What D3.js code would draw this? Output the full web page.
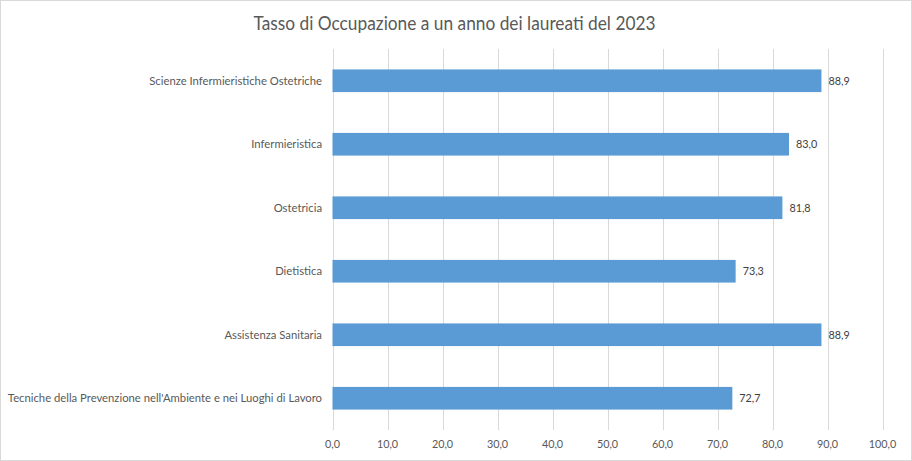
<!DOCTYPE html>
<html>
<head>
<meta charset="utf-8">
<script src="https://cdn.jsdelivr.net/npm/d3@7"></script>
<style>
  body { margin: 0; background: #fff; }
  svg { display: block; font-family: Lato, "Open Sans", sans-serif; }
</style>
</head>
<body>
<svg id="chart" width="912" height="461"></svg>
<script>
// data
const titleText = "Tasso di Occupazione a un anno dei laureati del 2023";
const categories = [
  "Scienze Infermieristiche Ostetriche",
  "Infermieristica",
  "Ostetricia",
  "Dietistica",
  "Assistenza Sanitaria",
  "Tecniche della Prevenzione nell'Ambiente e nei Luoghi di Lavoro"
];
const values = [88.9, 83.0, 81.8, 73.3, 88.9, 72.7];
const xTicks = [0, 10, 20, 30, 40, 50, 60, 70, 80, 90, 100];

const width = 912, height = 461;
const margin = { top: 49, right: 29.5, bottom: 31, left: 332.5 };

const svg = d3.select("#chart");

// comma as decimal separator (Italian)
const itLocale = d3.formatLocale({ decimal: ",", thousands: ".", grouping: [3], currency: ["€", ""] });
const fmt = itLocale.format(".1f");

// chart border
svg.append("rect")
  .attr("x", 0.5).attr("y", 0.5)
  .attr("width", width - 1).attr("height", height - 1)
  .attr("fill", "#fff")
  .attr("stroke", "#d9d9d9");

const x = d3.scaleLinear()
  .domain([0, 100])
  .range([margin.left, width - margin.right]);

const y = d3.scaleBand()
  .domain(categories)
  .range([margin.top, height - margin.bottom])
  .paddingInner(0.643)
  .paddingOuter(0.3215);

// condense text a bit to mimic the narrower original face
function condense(sel, factor) {
  sel.each(function () {
    const w = this.getComputedTextLength();
    d3.select(this).attr("textLength", w * factor).attr("lengthAdjust", "spacingAndGlyphs");
  });
}

// gridlines
svg.append("g")
  .selectAll("line")
  .data(xTicks)
  .join("line")
  .attr("x1", d => Math.round(x(d)) + 0.5)
  .attr("x2", d => Math.round(x(d)) + 0.5)
  .attr("y1", margin.top)
  .attr("y2", height - margin.bottom)
  .attr("stroke", "#d9d9d9")
  .attr("stroke-width", 1);

// x tick labels
const xLabels = svg.append("g")
  .selectAll("text")
  .data(xTicks)
  .join("text")
  .attr("x", d => x(d))
  .attr("y", 448)
  .attr("text-anchor", "middle")
  .attr("font-size", 12)
  .attr("fill", "#595959")
  .text(d => fmt(d));
condense(xLabels, 0.9);

// bars
svg.append("g")
  .selectAll("rect")
  .data(values)
  .join("rect")
  .attr("x", x(0))
  .attr("y", (d, i) => y(categories[i]))
  .attr("width", d => x(d) - x(0))
  .attr("height", y.bandwidth())
  .attr("fill", "#5b9bd5");

// value labels
const vLabels = svg.append("g")
  .selectAll("text")
  .data(values)
  .join("text")
  .attr("x", d => x(d) + 7)
  .attr("y", (d, i) => y(categories[i]) + y.bandwidth() / 2 + 4)
  .attr("font-size", 12)
  .attr("fill", "#404040")
  .text(d => fmt(d));
condense(vLabels, 0.9);

// category labels
const cLabels = svg.append("g")
  .selectAll("text")
  .data(categories)
  .join("text")
  .attr("x", 322)
  .attr("y", d => y(d) + y.bandwidth() / 2 + 4)
  .attr("text-anchor", "end")
  .attr("font-size", 12)
  .attr("fill", "#595959")
  .text(d => d);
condense(cLabels, 0.94);

// title
const title = svg.append("text")
  .attr("x", 454.5)
  .attr("y", 30)
  .attr("text-anchor", "middle")
  .attr("font-size", 18.5)
  .attr("fill", "#595959")
  .text(titleText);
condense(title, 0.935);
</script>
</body>
</html>
